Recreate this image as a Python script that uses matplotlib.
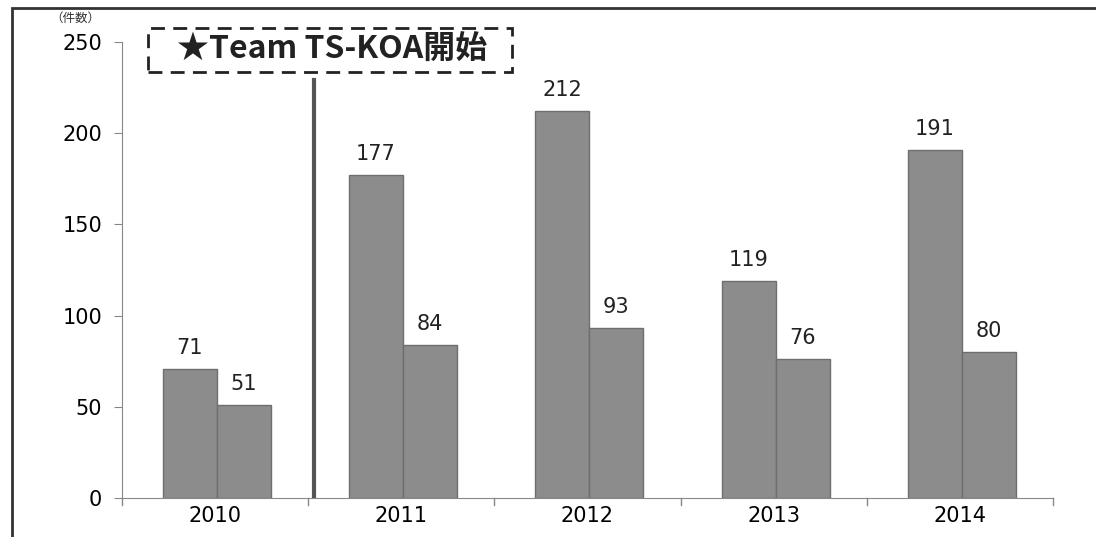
import matplotlib
matplotlib.use('Agg')
import matplotlib.pyplot as plt
from matplotlib.patches import Rectangle
import numpy as np

plt.rcParams['font.family'] = ['Noto Sans CJK JP', 'DejaVu Sans']

years = ['2010', '2011', '2012', '2013', '2014']
first = [71, 177, 212, 119, 191]
second = [51, 84, 93, 76, 80]

fig = plt.figure(figsize=(10.96, 5.37), dpi=100)
ax = fig.add_axes([0.111, 0.0726, 0.85, 0.8492])

x = np.arange(len(years))
w = 0.29
bar_col = '#8c8c8c'
edge_col = '#6e6e6e'
b1 = ax.bar(x - w / 2 + 0.01, first, w, color=bar_col, edgecolor=edge_col, linewidth=1)
b2 = ax.bar(x + w / 2 + 0.01, second, w, color=bar_col, edgecolor=edge_col, linewidth=1)

num_font = 'DejaVu Sans'
for bars, vals in ((b1, first), (b2, second)):
    for b, v in zip(bars, vals):
        ax.text(b.get_x() + b.get_width() / 2, v + 6, str(v), ha='center', va='bottom',
                fontsize=15, color='#222222', fontfamily=num_font)

ax.set_xlim(-0.5, 4.5)
ax.set_ylim(0, 250)
ax.set_yticks(range(0, 251, 50))
ax.set_xticks(x)
ax.set_xticklabels(years, fontsize=15, fontfamily=num_font)
ax.tick_params(axis='y', labelsize=15, length=6, color='#888888', pad=8)
for t in ax.get_yticklabels():
    t.set_fontfamily(num_font)
ax.tick_params(axis='x', length=0, pad=6)
# small ticks at category boundaries
for b in np.arange(-0.5, 5.0, 1.0):
    ax.plot([b, b], [0, -4], color='#888888', lw=1, clip_on=False)

for s in ('top', 'right'):
    ax.spines[s].set_visible(False)
ax.spines['left'].set_color('#888888')
ax.spines['bottom'].set_color('#888888')

# start marker line
ax.plot([0.53, 0.53], [0, 229], color='#555555', lw=3)

# dashed annotation box
fig.patches.append(Rectangle((148 / 1096, 1 - 72 / 537), 364 / 1096, 44 / 537,
                             transform=fig.transFigure, fill=False, ls=(0, (5, 3)),
                             lw=2, edgecolor='#222222'))
fig.text(332 / 1096, 1 - 50 / 537, '★Team TS-KOA開始', ha='center', va='center',
         fontsize=23, fontweight='bold', color='#222222')
fig.text(75 / 1096, 1 - 18 / 537, '（件数）', ha='center', va='center', fontsize=9,
         color='#333333')

# outer frame
fig.patches.append(Rectangle((12 / 1096, -0.1), 1.2, 1 - 8 / 537 + 0.1,
                             transform=fig.transFigure, fill=False, lw=2,
                             edgecolor='#333333'))

fig.savefig('out.png', dpi=100)
